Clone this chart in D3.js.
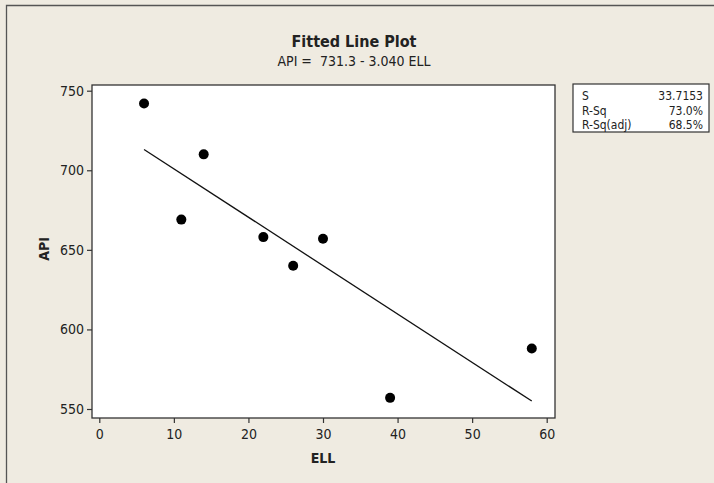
<!DOCTYPE html>
<html><head><meta charset="utf-8">
<script src="https://cdn.jsdelivr.net/npm/d3@7"></script>
<style>
html,body{margin:0;padding:0;background:#EFEBE1;}
svg{display:block;}
text{font-family:"DejaVu Sans Condensed","DejaVu Sans",sans-serif;fill:#222;}
</style></head>
<body>
<script>
const ell = [6, 11, 14, 22, 26, 30, 39, 58];
const api = [742, 669, 710, 658, 640, 657, 557, 588];
const xTicks = [0, 10, 20, 30, 40, 50, 60];
const yTicks = [550, 600, 650, 700, 750];
const intercept = 731.3;
const slope = -3.040;
const statLabels = ["S", "R-Sq", "R-Sq(adj)"];
const statValues = ["33.7153", "73.0%", "68.5%"];

const W = 714, H = 483;
const svg = d3.select("body").append("svg").attr("width", W).attr("height", H);
svg.append("rect").attr("width", W).attr("height", H).attr("fill", "#EFEBE1");
// outer frame lines
svg.append("path").attr("d", `M6.5,${H} L6.5,5.5 L${W},5.5`).attr("fill","none").attr("stroke","#555").attr("stroke-width",1.3);

const x = d3.scaleLinear().domain([0, 60]).range([99.3, 546.7]);
const y = d3.scaleLinear().domain([550, 750]).range([409, 90.7]);
const box = {x0: 92, x1: 555, y0: 85, y1: 418};

svg.append("rect").attr("x", box.x0).attr("y", box.y0)
  .attr("width", box.x1 - box.x0).attr("height", box.y1 - box.y0)
  .attr("fill", "#fff").attr("stroke", "#333").attr("stroke-width", 1.3);

const xAxis = svg.append("g").attr("transform", `translate(0,${box.y1})`)
  .call(d3.axisBottom(x).tickValues(xTicks).tickSize(5).tickPadding(6));
const yAxis = svg.append("g").attr("transform", `translate(${box.x0},0)`)
  .call(d3.axisLeft(y).tickValues(yTicks).tickSize(5).tickPadding(3));
[xAxis, yAxis].forEach(g => {
  g.select(".domain").remove();
  g.selectAll("line").attr("stroke", "#333").attr("stroke-width", 1.2);
  g.selectAll("text").attr("font-size", 14).attr("fill", "#333")
    .attr("font-family", '"DejaVu Sans Condensed","DejaVu Sans",sans-serif');
});

// fitted line
const xmin = d3.min(ell), xmax = d3.max(ell);
svg.append("line")
  .attr("x1", x(xmin)).attr("y1", y(intercept + slope * xmin))
  .attr("x2", x(xmax)).attr("y2", y(intercept + slope * xmax))
  .attr("stroke", "#111").attr("stroke-width", 1.3);

// points
svg.selectAll("circle.pt").data(ell.map((e, i) => [e, api[i]])).enter()
  .append("circle").attr("class", "pt")
  .attr("cx", d => x(d[0])).attr("cy", d => y(d[1])).attr("r", 5).attr("fill", "#000");

// titles
svg.append("text").attr("x", 354).attr("y", 47).attr("text-anchor", "middle")
  .attr("font-size", 16).attr("font-weight", "bold").text("Fitted Line Plot");
svg.append("text").attr("x", 354).attr("y", 66).attr("text-anchor", "middle")
  .attr("font-size", 14).attr("xml:space", "preserve").text("API =  731.3 - 3.040 ELL");
svg.append("text").attr("x", 323).attr("y", 463).attr("text-anchor", "middle")
  .attr("font-size", 14).attr("font-weight", "bold").text("ELL");
svg.append("text").attr("transform", "translate(49,249) rotate(-90)").attr("text-anchor", "middle")
  .attr("font-size", 14).attr("font-weight", "bold").text("API");

// stats box
const sb = {x: 573, y: 84, w: 136, h: 48};
svg.append("rect").attr("x", sb.x).attr("y", sb.y).attr("width", sb.w).attr("height", sb.h)
  .attr("fill", "#fff").attr("stroke", "#333").attr("stroke-width", 1.2);
statLabels.forEach((l, i) => {
  svg.append("text").attr("x", sb.x + 9).attr("y", sb.y + 16 + i * 14.5).attr("font-size", 12).text(l);
  svg.append("text").attr("x", sb.x + sb.w - 6).attr("y", sb.y + 16 + i * 14.5).attr("font-size", 12)
    .attr("text-anchor", "end").text(statValues[i]);
});
</script>
</body></html>
